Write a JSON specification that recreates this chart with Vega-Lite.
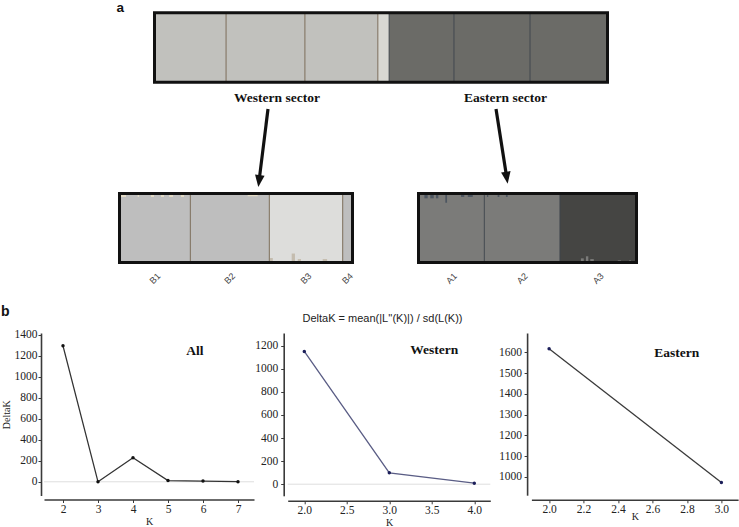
{
  "$schema": "https://vega.github.io/schema/vega-lite/v6.json",
  "padding": 0,
  "background": "white",
  "bounds": "flush",
  "spacing": 0,
  "config": {
    "view": {"stroke": null},
    "axis": {"labelFont": "Liberation Serif", "labelFontSize": 11.5, "labelColor": "#222", "titleFont": "Liberation Serif", "titleFontSize": 10, "titleFontWeight": "normal", "titleColor": "#222", "domainColor": "#3a3a3a", "domainWidth": 1.6, "tickColor": "#3a3a3a", "tickSize": 3, "tickWidth": 1, "grid": false, "labelFlush": false, "labelOverlap": false, "tickCount": 20},
    "text": {"font": "Liberation Sans"}
  },
  "datasets": {
    "topPops": [
      {"pop": "B1", "sector": "W", "start": 0, "end": 0.158, "q0": 0, "q1": 1, "cl": "gW"},
      {"pop": "B2", "sector": "W", "start": 0.158, "end": 0.332, "q0": 0, "q1": 1, "cl": "gW"},
      {"pop": "B3", "sector": "W", "start": 0.332, "end": 0.493, "q0": 0, "q1": 1, "cl": "gW"},
      {"pop": "B4", "sector": "W", "start": 0.493, "end": 0.518, "q0": 0, "q1": 1, "cl": "gL"},
      {"pop": "A1", "sector": "E", "start": 0.518, "end": 0.661, "q0": 0, "q1": 1, "cl": "gE"},
      {"pop": "A2", "sector": "E", "start": 0.661, "end": 0.829, "q0": 0, "q1": 1, "cl": "gE"},
      {"pop": "A3", "sector": "E", "start": 0.829, "end": 1, "q0": 0, "q1": 1, "cl": "gE"}
    ],
    "westPops": [
      {"pop": "B1", "sector": "W", "start": 0, "end": 0.304, "q0": 0, "q1": 1, "cl": "bW"},
      {"pop": "B2", "sector": "W", "start": 0.304, "end": 0.643, "q0": 0, "q1": 1, "cl": "bW"},
      {"pop": "B3", "sector": "W", "start": 0.643, "end": 0.958, "q0": 0, "q1": 1, "cl": "bL"},
      {"pop": "B4", "sector": "W", "start": 0.958, "end": 1, "q0": 0, "q1": 1, "cl": "bW"}
    ],
    "eastPops": [
      {"pop": "A1", "sector": "E", "start": 0, "end": 0.302, "q0": 0, "q1": 1, "cl": "aM"},
      {"pop": "A2", "sector": "E", "start": 0.302, "end": 0.649, "q0": 0, "q1": 1, "cl": "aM"},
      {"pop": "A3", "sector": "E", "start": 0.649, "end": 1, "q0": 0, "q1": 1, "cl": "aD"}
    ],
    "westSlivers": [
      {"start": 0.006, "end": 0.028, "q0": 0.95, "q1": 1, "cl": "bC"},
      {"start": 0.078, "end": 0.084, "q0": 0.95, "q1": 1, "cl": "bC"},
      {"start": 0.135, "end": 0.148, "q0": 0.95, "q1": 1, "cl": "bC"},
      {"start": 0.178, "end": 0.191, "q0": 0.95, "q1": 1, "cl": "bC"},
      {"start": 0.213, "end": 0.23, "q0": 0.95, "q1": 1, "cl": "bC"},
      {"start": 0.264, "end": 0.277, "q0": 0.95, "q1": 1, "cl": "bC"},
      {"start": 0.55, "end": 0.593, "q0": 0.96, "q1": 1, "cl": "bC"},
      {"start": 0.646, "end": 0.658, "q0": 0, "q1": 0.065, "cl": "bT"},
      {"start": 0.739, "end": 0.753, "q0": 0, "q1": 0.13, "cl": "bT"},
      {"start": 0.765, "end": 0.779, "q0": 0, "q1": 0.05, "cl": "bT"},
      {"start": 0.872, "end": 0.891, "q0": 0, "q1": 0.05, "cl": "bT"}
    ],
    "eastSlivers": [
      {"start": 0.027, "end": 0.042, "q0": 0.93, "q1": 1, "cl": "aF"},
      {"start": 0.054, "end": 0.07, "q0": 0.93, "q1": 1, "cl": "aF"},
      {"start": 0.08, "end": 0.091, "q0": 0.93, "q1": 1, "cl": "aF"},
      {"start": 0.123, "end": 0.131, "q0": 0.866, "q1": 1, "cl": "aF"},
      {"start": 0.195, "end": 0.21, "q0": 0.95, "q1": 1, "cl": "aF"},
      {"start": 0.226, "end": 0.249, "q0": 0.95, "q1": 1, "cl": "aF"},
      {"start": 0.314, "end": 0.32, "q0": 0.95, "q1": 1, "cl": "aF"},
      {"start": 0.363, "end": 0.371, "q0": 0.95, "q1": 1, "cl": "aF"},
      {"start": 0.401, "end": 0.409, "q0": 0.95, "q1": 1, "cl": "aF"},
      {"start": 0.745, "end": 0.758, "q0": 0, "q1": 0.06, "cl": "aM"},
      {"start": 0.768, "end": 0.779, "q0": 0, "q1": 0.09, "cl": "aM"},
      {"start": 0.788, "end": 0.804, "q0": 0, "q1": 0.05, "cl": "aM"},
      {"start": 0.914, "end": 0.929, "q0": 0, "q1": 0.03, "cl": "aM"},
      {"start": 0.966, "end": 0.975, "q0": 0, "q1": 0.03, "cl": "aM"}
    ],
    "deltaK": [
      {"set": "All", "K": 2, "dK": 1295},
      {"set": "All", "K": 3, "dK": 0},
      {"set": "All", "K": 4, "dK": 229},
      {"set": "All", "K": 5, "dK": 12},
      {"set": "All", "K": 6, "dK": 7},
      {"set": "All", "K": 7, "dK": 1},
      {"set": "Western", "K": 2, "dK": 1151},
      {"set": "Western", "K": 3, "dK": 99},
      {"set": "Western", "K": 4, "dK": 9},
      {"set": "Eastern", "K": 2, "dK": 1618},
      {"set": "Eastern", "K": 3, "dK": 972}
    ]
  },
  "vconcat": [
    {
      "width": 696,
      "height": 188,
      "layer": [
        {
          "data": {"name": "topPops"},
          "mark": {"type": "rect"},
          "encoding": {
            "x": {"field": "start", "type": "quantitative", "scale": {"domain": [-0.24393, 1.29249], "nice": false, "zero": false}, "axis": null},
            "x2": {"field": "end"},
            "y": {"field": "q0", "type": "quantitative", "scale": {"domain": [-1.55331, 1.15562], "nice": false, "zero": false}, "axis": null},
            "y2": {"field": "q1"},
            "fill": {"field": "cl", "type": "nominal", "legend": null, "scale": {"domain": ["gW", "gL", "gE", "bW", "bL", "bC", "bT", "aM", "aD", "aF"], "range": ["#c1c1bd", "#d8d8d3", "#6b6b67", "#bebebe", "#dddddb", "#e4dcc6", "#c4bcae", "#7b7b79", "#454543", "#4d5661"]}}
          }
        },
        {
          "data": {"name": "topPops"},
          "transform": [{"filter": "datum.start > 0"}],
          "mark": {"type": "rule", "strokeWidth": 1},
          "encoding": {
            "x": {"field": "start", "type": "quantitative", "axis": null},
            "y": {"datum": 0, "axis": null},
            "y2": {"datum": 1},
            "stroke": {"field": "sector", "type": "nominal", "legend": null, "scale": {"domain": ["W", "E"], "range": ["#7a6b58", "#3f454c"]}}
          }
        },
        {
          "data": {"values": [{}]},
          "mark": {"type": "rect", "fillOpacity": 0, "stroke": "#111", "strokeWidth": 3},
          "encoding": {"x": {"datum": 0, "axis": null}, "x2": {"datum": 1}, "y": {"datum": 0, "axis": null}, "y2": {"datum": 1}}
        },
        {
          "data": {"values": [{}]},
          "mark": {"type": "text", "text": "a", "font": "Liberation Sans", "fontWeight": "bold", "fontSize": 13.5, "align": "left", "baseline": "alphabetic", "color": "#111"},
          "encoding": {"x": {"datum": -0.0839, "axis": null}, "y": {"datum": 1.0159, "axis": null}}
        },
        {
          "data": {"values": [{}]},
          "mark": {"type": "text", "text": "Western sector", "font": "Liberation Serif", "fontWeight": "bold", "fontSize": 13.5, "align": "center", "baseline": "alphabetic", "color": "#111"},
          "encoding": {"x": {"datum": 0.2704, "axis": null}, "y": {"datum": -0.2781, "axis": null}}
        },
        {
          "data": {"values": [{}]},
          "mark": {"type": "text", "text": "Eastern sector", "font": "Liberation Serif", "fontWeight": "bold", "fontSize": 13.5, "align": "center", "baseline": "alphabetic", "color": "#111"},
          "encoding": {"x": {"datum": 0.7748, "axis": null}, "y": {"datum": -0.2781, "axis": null}}
        },
        {
          "data": {"values": [{}]},
          "mark": {"type": "rule", "strokeWidth": 3.2, "color": "#111"},
          "encoding": {"x": {"datum": 0.2506, "axis": null}, "y": {"datum": -0.3862, "axis": null}, "x2": {"datum": 0.2321}, "y2": {"datum": -1.3528}}
        },
        {
          "data": {"values": [{}]},
          "mark": {"type": "rule", "strokeWidth": 3.2, "color": "#111"},
          "encoding": {"x": {"datum": 0.7539, "axis": null}, "y": {"datum": -0.3862, "axis": null}, "x2": {"datum": 0.7759}, "y2": {"datum": -1.3055}}
        },
        {
          "data": {"values": [{}]},
          "mark": {"type": "point", "shape": "M-0.8,-1L0.8,-1L0,1Z", "size": 144, "filled": true, "color": "#111", "opacity": 1, "angle": 7.1},
          "encoding": {"x": {"datum": 0.2308, "axis": null}, "y": {"datum": -1.4244, "axis": null}}
        },
        {
          "data": {"values": [{}]},
          "mark": {"type": "point", "shape": "M-0.8,-1L0.8,-1L0,1Z", "size": 144, "filled": true, "color": "#111", "opacity": 1, "angle": 351.1},
          "encoding": {"x": {"datum": 0.7776, "axis": null}, "y": {"datum": -1.3771, "axis": null}}
        }
      ]
    },
    {
      "width": 696,
      "height": 142.5,
      "resolve": {"scale": {"x": "independent"}},
      "layer": [
        {
          "layer": [
            {
              "data": {"name": "westPops"},
              "mark": {"type": "rect"},
              "encoding": {
                "x": {"field": "start", "type": "quantitative", "scale": {"domain": [-0.32403, 2.66309], "nice": false, "zero": false}, "axis": null},
                "x2": {"field": "end"},
                "y": {"field": "q0", "type": "quantitative", "scale": {"domain": [-1.01449, 1.05072], "nice": false, "zero": false}, "axis": null},
                "y2": {"field": "q1"},
                "fill": {"field": "cl", "type": "nominal", "legend": null, "scale": {"domain": ["gW", "gL", "gE", "bW", "bL", "bC", "bT", "aM", "aD", "aF"], "range": ["#c1c1bd", "#d8d8d3", "#6b6b67", "#bebebe", "#dddddb", "#e4dcc6", "#c4bcae", "#7b7b79", "#454543", "#4d5661"]}}
              }
            },
            {
              "data": {"name": "westSlivers"},
              "mark": {"type": "rect"},
              "encoding": {
                "x": {"field": "start", "type": "quantitative", "axis": null},
                "x2": {"field": "end"},
                "y": {"field": "q0", "type": "quantitative", "axis": null},
                "y2": {"field": "q1"},
                "fill": {"field": "cl", "type": "nominal", "legend": null}
              }
            },
            {
              "data": {"name": "westPops"},
              "transform": [{"filter": "datum.start > 0"}],
              "mark": {"type": "rule", "strokeWidth": 1},
              "encoding": {
                "x": {"field": "start", "type": "quantitative", "axis": null},
                "y": {"datum": 0, "axis": null},
                "y2": {"datum": 1},
                "stroke": {"field": "sector", "type": "nominal", "legend": null, "scale": {"domain": ["W", "E"], "range": ["#6b5a48", "#3f454c"]}}
              }
            },
            {
              "data": {"values": [{}]},
              "mark": {"type": "rect", "fillOpacity": 0, "stroke": "#111", "strokeWidth": 3},
              "encoding": {"x": {"datum": 0, "axis": null}, "x2": {"datum": 1}, "y": {"datum": 0, "axis": null}, "y2": {"datum": 1}}
            },
            {
              "data": {"name": "westPops"},
              "transform": [{"calculate": "(datum.start + datum.end) / 2", "as": "mid"}],
              "mark": {"type": "text", "fontSize": 9, "color": "#444", "align": "center", "baseline": "middle"},
              "encoding": {"x": {"field": "mid", "type": "quantitative", "axis": null}, "y": {"datum": -0.2319, "axis": null}, "text": {"field": "pop"}, "angle": {"value": 315}}
            },
            {
              "data": {"values": [{}]},
              "mark": {"type": "text", "text": "b", "fontWeight": "bold", "fontSize": 14, "align": "left", "baseline": "alphabetic", "color": "#111"},
              "encoding": {"x": {"datum": -0.50858, "axis": null}, "y": {"datum": -0.76812, "axis": null}}
            },
            {
              "data": {"values": [{}]},
              "mark": {"type": "text", "text": "DeltaK = mean(|L''(K)|) / sd(L(K))", "fontSize": 11, "align": "center", "baseline": "alphabetic", "color": "#222"},
              "encoding": {"x": {"datum": 1.12876, "axis": null}, "y": {"datum": -0.8551, "axis": null}}
            }
          ]
        },
        {
          "layer": [
            {
              "data": {"name": "eastPops"},
              "mark": {"type": "rect"},
              "encoding": {
                "x": {"field": "start", "type": "quantitative", "scale": {"domain": [-1.71789, 1.47477], "nice": false, "zero": false}, "axis": null},
                "x2": {"field": "end"},
                "y": {"field": "q0", "type": "quantitative", "axis": null},
                "y2": {"field": "q1"},
                "fill": {"field": "cl", "type": "nominal", "legend": null}
              }
            },
            {
              "data": {"name": "eastSlivers"},
              "mark": {"type": "rect"},
              "encoding": {
                "x": {"field": "start", "type": "quantitative", "axis": null},
                "x2": {"field": "end"},
                "y": {"field": "q0", "type": "quantitative", "axis": null},
                "y2": {"field": "q1"},
                "fill": {"field": "cl", "type": "nominal", "legend": null}
              }
            },
            {
              "data": {"name": "eastPops"},
              "transform": [{"filter": "datum.start > 0"}],
              "mark": {"type": "rule", "strokeWidth": 1},
              "encoding": {
                "x": {"field": "start", "type": "quantitative", "axis": null},
                "y": {"datum": 0, "axis": null},
                "y2": {"datum": 1},
                "stroke": {"field": "sector", "type": "nominal", "legend": null}
              }
            },
            {
              "data": {"values": [{}]},
              "mark": {"type": "rect", "fillOpacity": 0, "stroke": "#111", "strokeWidth": 3},
              "encoding": {"x": {"datum": 0, "axis": null}, "x2": {"datum": 1}, "y": {"datum": 0, "axis": null}, "y2": {"datum": 1}}
            },
            {
              "data": {"name": "eastPops"},
              "transform": [{"calculate": "(datum.start + datum.end) / 2", "as": "mid"}],
              "mark": {"type": "text", "fontSize": 9, "color": "#444", "align": "center", "baseline": "middle"},
              "encoding": {"x": {"field": "mid", "type": "quantitative", "axis": null}, "y": {"datum": -0.2319, "axis": null}, "text": {"field": "pop"}, "angle": {"value": 315}}
            }
          ]
        }
      ]
    },
    {
      "hconcat": [
        {
          "width": 210,
          "height": 162.5,
          "layer": [
            {
              "data": {"values": [{}]},
              "mark": {"type": "rule", "color": "#dedede", "strokeWidth": 1},
              "encoding": {"y": {"datum": 0}}
            },
            {
              "data": {"name": "deltaK"},
              "transform": [{"filter": "datum.set === 'All'"}],
              "mark": {"type": "line", "color": "#333", "strokeWidth": 1.3, "point": {"filled": true, "size": 12, "color": "#111"}},
              "encoding": {
                "x": {"field": "K", "type": "quantitative", "scale": {"domain": [1.45714, 7.45714], "nice": false, "zero": false}, "axis": {"values": [2, 3, 4, 5, 6, 7], "tickCount": 20, "format": "d", "title": "K", "offset": 4, "labelPadding": 1, "titlePadding": 1, "labelOverlap": false}},
                "y": {"field": "dK", "type": "quantitative", "scale": {"domain": [-130.5, 1417], "nice": false, "zero": false}, "axis": {"values": [0, 200, 400, 600, 800, 1000, 1200, 1400], "tickCount": 20, "format": "d", "title": "DeltaK", "offset": 3, "labelPadding": 1, "titlePadding": 3, "labelOverlap": false}}
              }
            },
            {
              "data": {"values": [{}]},
              "mark": {"type": "text", "text": "All", "font": "Liberation Serif", "fontWeight": "bold", "fontSize": 13.5, "align": "center", "baseline": "alphabetic", "color": "#111"},
              "encoding": {"x": {"datum": 5.771}, "y": {"datum": 1210}}
            }
          ]
        },
        {
          "hconcat": [
            {
              "width": 202.6,
              "height": 162.8,
              "layer": [
                {
                  "data": {"values": [{}]},
                  "mark": {"type": "rule", "color": "#dedede", "strokeWidth": 1},
                  "encoding": {"y": {"datum": 0}}
                },
                {
                  "data": {"name": "deltaK"},
                  "transform": [{"filter": "datum.set === 'Western'"}],
                  "mark": {"type": "line", "color": "#5a5d85", "strokeWidth": 1.3, "point": {"filled": true, "size": 12, "color": "#1c1f5a"}},
                  "encoding": {
                    "x": {"field": "K", "type": "quantitative", "scale": {"domain": [1.8047, 4.1882], "nice": false, "zero": false}, "axis": {"values": [2, 2.5, 3, 3.5, 4], "tickCount": 20, "format": ".1f", "title": "K", "offset": 5, "labelPadding": 1, "titlePadding": 1.5, "labelOverlap": false}},
                    "y": {"field": "dK", "type": "quantitative", "scale": {"domain": [-100.6, 1311], "nice": false, "zero": false}, "axis": {"values": [0, 200, 400, 600, 800, 1000, 1200], "tickCount": 20, "format": "d", "title": null, "offset": 4, "labelPadding": 3, "labelOverlap": false}}
                  }
                },
                {
                  "data": {"values": [{}]},
                  "mark": {"type": "text", "text": "Western", "font": "Liberation Serif", "fontWeight": "bold", "fontSize": 13.5, "align": "center", "baseline": "alphabetic", "color": "#111"},
                  "encoding": {"x": {"datum": 3.529}, "y": {"datum": 1127}}
                }
              ]
            },
            {
              "width": 206.7,
              "height": 162.2,
              "layer": [
                {
                  "data": {"name": "deltaK"},
                  "transform": [{"filter": "datum.set === 'Eastern'"}],
                  "mark": {"type": "line", "color": "#3a3a3a", "strokeWidth": 1.3, "point": {"filled": true, "size": 12, "color": "#1c1f5a"}},
                  "encoding": {
                    "x": {"field": "K", "type": "quantitative", "scale": {"domain": [1.89727, 3.09692], "nice": false, "zero": false}, "axis": {"values": [2, 2.2, 2.4, 2.6, 2.8, 3], "tickCount": 20, "format": ".1f", "title": "K", "offset": 4.6, "labelPadding": 1, "titlePadding": -4, "labelOverlap": false}},
                    "y": {"field": "dK", "type": "quantitative", "scale": {"domain": [911.2, 1694.1], "nice": false, "zero": false}, "axis": {"values": [1000, 1100, 1200, 1300, 1400, 1500, 1600], "tickCount": 20, "format": "d", "title": null, "offset": 4.3, "labelPadding": 2.7, "labelOverlap": false}}
                  }
                },
                {
                  "data": {"values": [{}]},
                  "mark": {"type": "text", "text": "Eastern", "font": "Liberation Serif", "fontWeight": "bold", "fontSize": 13.5, "align": "center", "baseline": "alphabetic", "color": "#111"},
                  "encoding": {"x": {"datum": 2.741}, "y": {"datum": 1579}}
                }
              ]
            }
          ],
          "spacing": 40.7,
          "bounds": "flush"
        }
      ],
      "spacing": 33.7,
      "bounds": "flush"
    }
  ]
}
